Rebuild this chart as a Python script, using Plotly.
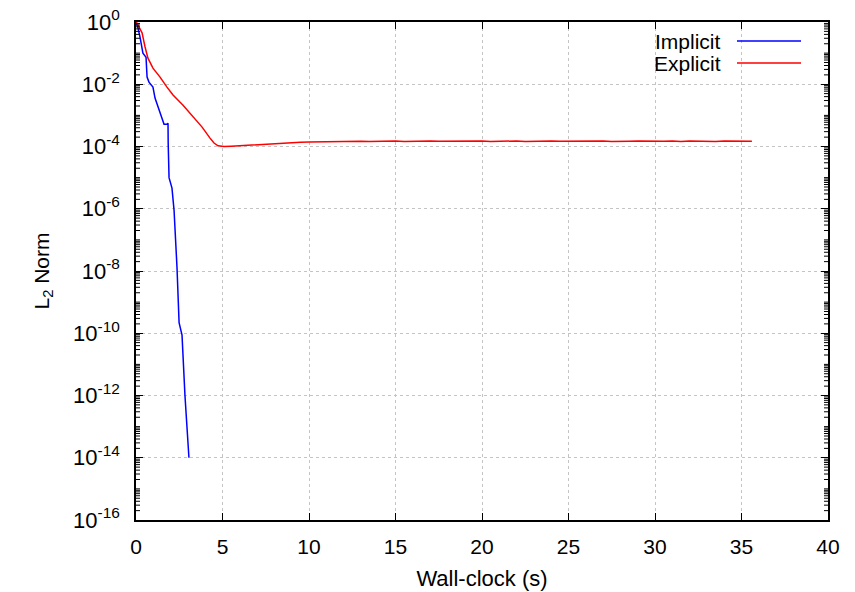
import math
import plotly.graph_objects as go

# Residual history of the implicit solver
implicit_t = [0.0, 0.1, 0.23, 0.40, 0.58, 0.64, 0.75, 0.98, 1.10, 1.27, 1.50, 1.62,
              1.79, 1.85, 1.86, 1.91, 2.08, 2.20, 2.37, 2.49, 2.66, 2.83, 3.06]
implicit_l2 = [0.95, 0.7, 0.33, 0.1, 0.074, 0.017, 0.0117, 0.0081, 0.0036, 0.0019,
               8.9e-4, 5.2e-4, 5.2e-4, 5.6e-4, 1.3e-4, 1.0e-5, 4.6e-6, 8.9e-7,
               1.3e-8, 2.2e-10, 8.7e-11, 1.0e-12, 1.0e-14]

# Residual history of the explicit solver
explicit_t = [0.02, 0.35, 0.52, 0.69, 0.98, 1.39, 1.79, 2.14, 2.72, 3.29, 3.82, 4.28,
              4.51, 4.74, 5.09, 5.5, 6.0, 6.5, 7.0, 7.5, 8.0, 8.5, 9.0, 9.5, 10.0,
              10.5, 11.0, 11.5, 12.0, 12.5, 13.0, 13.5, 14.0, 14.5, 15.0, 15.5, 16.0,
              16.5, 17.0, 17.5, 18.0, 18.5, 19.0, 19.5, 20.0, 20.5, 21.0, 21.5, 22.0,
              22.5, 23.0, 23.5, 24.0, 24.5, 25.0, 25.5, 26.0, 26.5, 27.0, 27.5, 28.0,
              28.5, 29.0, 29.5, 30.0, 30.5, 31.0, 31.5, 32.0, 32.5, 33.0, 33.5, 34.0,
              34.5, 35.0, 35.6]
explicit_l2 = [1.0, 0.45, 0.16, 0.069, 0.033, 0.017, 0.0081, 0.0045, 0.0021, 8.9e-4,
               4.2e-4, 1.86e-4, 1.29e-4, 1.05e-4, 1.0e-4, 1.02e-4, 1.06e-4, 1.12e-4,
               1.18e-4, 1.22e-4, 1.27e-4, 1.30e-4, 1.34e-4, 1.37e-4, 1.40e-4,
               1.42e-4, 1.45e-4, 1.43e-4, 1.47e-4, 1.44e-4, 1.48e-4, 1.45e-4,
               1.49e-4, 1.46e-4, 1.50e-4, 1.46e-4, 1.49e-4, 1.45e-4, 1.50e-4,
               1.47e-4, 1.49e-4, 1.46e-4, 1.50e-4, 1.47e-4, 1.51e-4, 1.46e-4,
               1.49e-4, 1.47e-4, 1.50e-4, 1.46e-4, 1.49e-4, 1.45e-4, 1.50e-4,
               1.47e-4, 1.49e-4, 1.46e-4, 1.50e-4, 1.47e-4, 1.49e-4, 1.45e-4,
               1.50e-4, 1.47e-4, 1.49e-4, 1.46e-4, 1.50e-4, 1.47e-4, 1.49e-4,
               1.45e-4, 1.50e-4, 1.47e-4, 1.49e-4, 1.46e-4, 1.50e-4, 1.47e-4,
               1.48e-4, 1.47e-4]

x_ticks = [0, 5, 10, 15, 20, 25, 30, 35, 40]
y_exponents = [0, -2, -4, -6, -8, -10, -12, -14, -16]

series = [("Implicit", implicit_t, implicit_l2, "#0000ff"),
          ("Explicit", explicit_t, explicit_l2, "#ff0000")]

FONT = "Liberation Sans, Arial, sans-serif"
GRID = "#c4c4c4"
PLOT_W, PLOT_H = 692, 498
LOG_MIN, LOG_MAX = -16, 0

# minor log ticks: 2..9 within every decade, plus the odd decades
minor_vals = [k * 10.0 ** e for e in range(LOG_MIN, LOG_MAX) for k in range(1, 10)
              if not (k == 1 and e % 2 == 0)]

fig = go.Figure()
for name, t, l2, color in series:
    fig.add_trace(go.Scatter(x=t, y=l2, mode="lines", name=name,
                             line=dict(color=color, width=1.5), showlegend=False))

# gnuplot-style key: right-aligned label with the line sample on its right
for i, (name, t, l2, color) in enumerate(series):
    y_px = 41 + 22 * i
    y_paper = 1 - (y_px - 22) / PLOT_H
    fig.add_annotation(x=(723 - 136) / PLOT_W, y=y_paper, xref="paper", yref="paper",
                       text=name, showarrow=False, xanchor="right", yanchor="middle",
                       font=dict(family=FONT, size=21, color="black"))
    fig.add_shape(type="line", xref="paper", yref="paper",
                  x0=(737 - 136) / PLOT_W, x1=(801 - 136) / PLOT_W, y0=y_paper, y1=y_paper,
                  line=dict(color=color, width=1.5))

# short inside minor ticks on the left and right frame edges
tick_len = 4 / PLOT_W
for v in minor_vals:
    yp = (math.log10(v) - LOG_MIN) / (LOG_MAX - LOG_MIN)
    for x0, x1 in ((0, tick_len), (1 - tick_len, 1)):
        fig.add_shape(type="line", xref="paper", yref="paper", x0=x0, x1=x1,
                      y0=yp, y1=yp, line=dict(color="black", width=1), layer="above")

fig.update_xaxes(
    range=[0, 40], tickvals=x_ticks, ticktext=[str(v) for v in x_ticks],
    showline=True, linecolor="black", linewidth=1.5, mirror="ticks",
    ticks="inside", ticklen=7, tickcolor="black", tickwidth=1,
    ticklabelstandoff=7, automargin=False,
    showgrid=True, gridcolor=GRID, griddash="dot", gridwidth=1,
    zeroline=False, tickfont=dict(family=FONT, size=21, color="black"),
    title=dict(text="Wall-clock (s)", font=dict(family=FONT, size=22, color="black"),
               standoff=14),
)
fig.update_yaxes(
    type="log", range=[LOG_MIN, LOG_MAX],
    tickvals=[10.0 ** e for e in y_exponents],
    ticktext=[f"10<sup>{e}</sup>" for e in y_exponents],
    showline=True, linecolor="black", linewidth=1.5, mirror="ticks",
    ticks="inside", ticklen=7, tickcolor="black", tickwidth=1,
    ticklabelstandoff=10, automargin=False,
    showgrid=True, gridcolor=GRID, griddash="dot", gridwidth=1,
    zeroline=False, tickfont=dict(family=FONT, size=22, color="black"),
    title=dict(text="L<sub>2</sub> Norm", font=dict(family=FONT, size=21, color="black"),
               standoff=18),
)

fig.update_layout(
    width=855, height=592,
    margin=dict(l=136, r=27, t=22, b=72),
    paper_bgcolor="white", plot_bgcolor="white",
    font=dict(family=FONT, color="black"),
)

fig.write_html("out.html")
